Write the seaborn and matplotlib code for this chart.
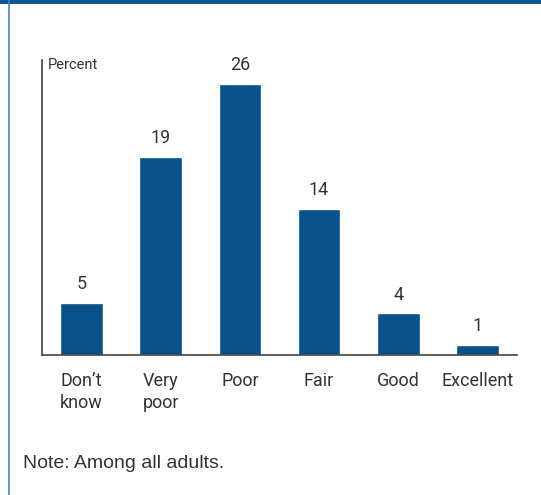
import matplotlib
matplotlib.use("Agg")
import matplotlib.pyplot as plt
import seaborn as sns
import pandas as pd
from matplotlib.patches import Rectangle
from matplotlib.lines import Line2D

categories = ["Don\u2019t\nknow", "Very\npoor", "Poor", "Fair", "Good", "Excellent"]
values = [5, 19, 26, 14, 4, 1]

BLUE = "#08518a"
TEXT = "#333333"

sns.set_theme(style="white")
plt.rcParams["font.family"] = ["Roboto", "DejaVu Sans"]

df = pd.DataFrame({"category": categories, "value": values})

fig = plt.figure(figsize=(5.41, 4.95), dpi=100)
W, H = 541, 495
ax = fig.add_axes([42 / W, 1 - 355 / H, (517 - 42) / W, (355 - 60) / H])

sns.barplot(data=df, x="category", y="value", color=BLUE, width=0.54,
            saturation=1, ax=ax)

ax.set_xlim(-0.5, 5.5)
ax.set_ylim(0, 28.3)
ax.set_xlabel("")
ax.set_ylabel("")
ax.set_yticks([])
ax.tick_params(axis="x", length=0, pad=12, labelsize=13, colors=TEXT)
for lbl in ax.get_xticklabels():
    lbl.set_verticalalignment("top")
    lbl.set_linespacing(1.3)

for side in ["top", "right"]:
    ax.spines[side].set_visible(False)
for side in ["left", "bottom"]:
    ax.spines[side].set_color("#444444")
    ax.spines[side].set_linewidth(1.2)

for i, v in enumerate(values):
    ax.annotate(str(v), (i, v), xytext=(0, 7), textcoords="offset points",
                ha="center", va="bottom", fontsize=13, color=TEXT)

fig.text(48 / W, 1 - 58 / H, "Percent", ha="left", va="top",
         fontsize=10.5, color=TEXT)

# frame: top bar and left rule
fig.add_artist(Rectangle((0, 1 - 4 / H), 1, 4 / H, transform=fig.transFigure,
                         color="#0b5791", lw=0))
fig.add_artist(Line2D([8.5 / W, 8.5 / W], [0, 1], transform=fig.transFigure,
                      color="#4a80b6", lw=1.2))

fig.text(23 / W, 1 - 463 / H, "Note: Among all adults.", ha="left", va="center",
         fontsize=14, color=TEXT, family=["Liberation Sans", "DejaVu Sans"])

fig.savefig("out.png", dpi=100)
